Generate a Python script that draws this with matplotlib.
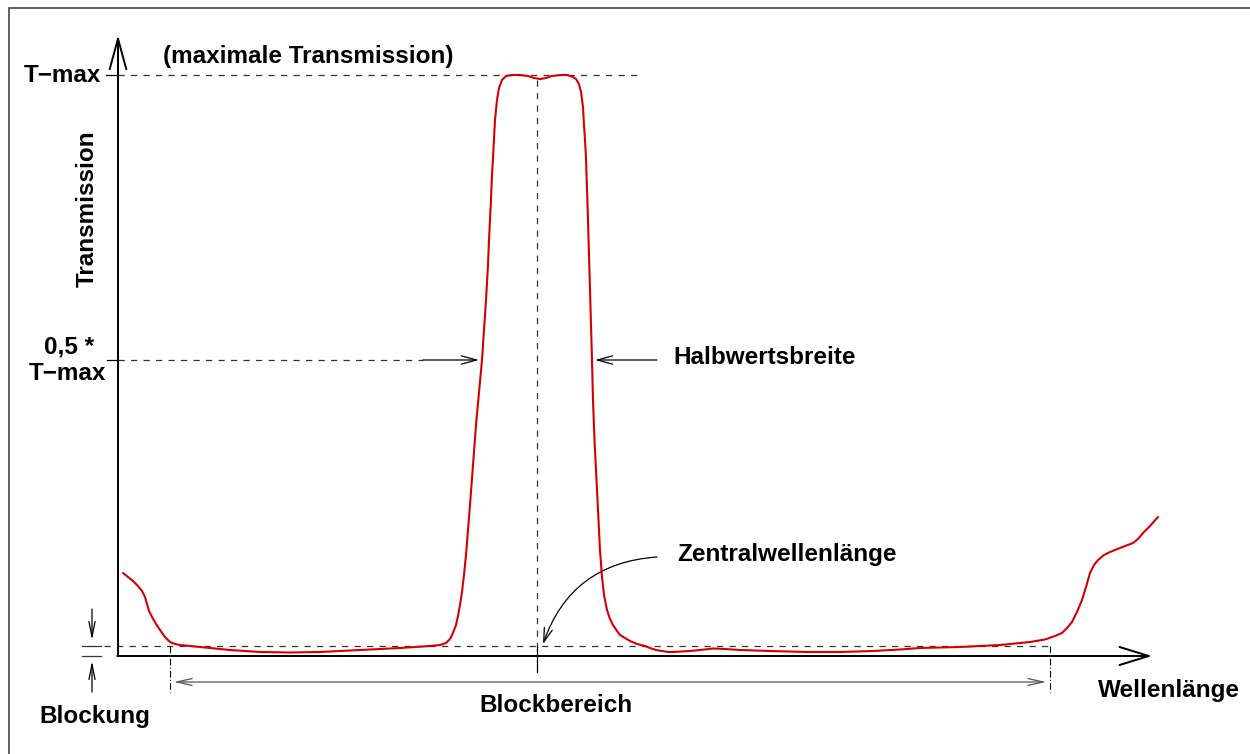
import matplotlib
matplotlib.use("Agg")
import matplotlib.pyplot as plt

# ---- data: schematic transmission curve of an interference filter ----
# wavelength and transmission in arbitrary units (T-max = 581)
wavelength = [123, 128, 133, 138, 142, 145, 147, 149, 152, 156,
              160, 165, 170, 175, 180, 200, 230, 260, 290, 320,
              360, 400, 430, 440, 446, 450, 453, 456, 458, 460,
              462, 464, 466, 468, 470, 473, 476, 479, 482, 484,
              486, 488, 489, 491, 492, 493, 494, 495, 497, 499,
              502, 506, 512, 520, 528, 534, 540, 546, 552, 560,
              567, 573, 576, 579, 581, 583, 584, 585, 586, 587,
              588, 590, 591, 592, 593, 594.5, 596.5, 598.5, 600, 602,
              604, 607, 610, 613, 617, 620, 625, 630,
              637, 645, 650, 656, 662, 668, 673, 682, 690, 700,
              713, 725, 740, 770, 807, 840, 873, 900, 920, 960,
              1000, 1030, 1045, 1055, 1062, 1067, 1072, 1077, 1082, 1086,
              1090, 1094, 1098, 1104, 1110, 1120, 1133, 1138, 1143, 1150,
              1158]
transmission = [83, 79, 75, 70, 65, 59, 52, 45, 39, 32,
                26, 19, 14, 12, 11, 9, 6, 4, 3.5, 4,
                6, 8, 10, 11, 13, 17, 23, 31, 40, 51,
                64, 81, 101, 126, 151, 191, 231, 264, 296, 326,
                356, 391, 416, 456, 481, 498, 518, 536, 556, 568,
                576, 580, 581, 581, 580, 578, 577, 578, 580, 581,
                581, 579, 577, 572, 564, 549, 531, 516, 498, 466,
                436, 366, 331, 296, 256, 216, 176, 136, 106, 79,
                61, 46, 37, 31, 25, 21, 18, 15,
                12, 10, 8, 6, 5, 4, 4, 4.5, 5, 6,
                7.5, 7, 6, 5, 4, 4, 5, 6.5, 8, 9,
                11, 14, 16.5, 20, 23, 28, 34, 44, 56, 69,
                83, 91, 96, 101, 104, 108, 113, 117, 123, 130,
                139]

T_MAX = 581
T_HALF = 296
T_BLOCK = 10.5
X_CENTER = 537
X_BLOCK_START = 170
X_BLOCK_END = 1050

# ---- layout helper: figure pixel row -> transmission coordinate ----
def py(y):
    return 656 - y

FONT = dict(family="Liberation Sans", weight="bold", size=17.5, color="black")

fig = plt.figure(figsize=(12.5, 7.54), dpi=100)
ax = fig.add_axes([0, 0, 1, 1])
ax.set_xlim(0, 1250)
ax.set_ylim(py(754), py(0))
ax.axis("off")

# frame
ax.plot([8.5, 8.5, 1250], [py(754), py(7.5), py(7.5)], color="#444444", lw=1.2,
        solid_joinstyle="miter", clip_on=False)

# axes with arrows
ax.annotate("", xy=(118, py(35)), xytext=(118, 0),
            arrowprops=dict(arrowstyle="->,head_length=2.2,head_width=0.6",
                            lw=1.4, color="black", mutation_scale=10,
                            shrinkA=0, shrinkB=0))
ax.annotate("", xy=(1152, 0), xytext=(117.3, 0),
            arrowprops=dict(arrowstyle="->,head_length=2.1,head_width=0.65",
                            lw=1.4, color="black", mutation_scale=10,
                            shrinkA=0, shrinkB=0))

dash = dict(color="#333333", lw=0.9, linestyle=(0, (5, 5)))

# ticks at T-max and half max
ax.plot([106, 118], [T_MAX, T_MAX], color="black", lw=0.9)
ax.plot([107, 118], [T_HALF, T_HALF], color="black", lw=0.9)

# guide lines
ax.plot([118, 637], [T_MAX, T_MAX], **dash)
ax.plot([118, 423], [T_HALF, T_HALF], **dash)
ax.plot([X_CENTER, X_CENTER], [py(80), T_BLOCK], **dash)
ax.plot([X_CENTER, X_CENTER], [T_BLOCK, py(672)], color="black", lw=0.9)
ax.plot([104, X_BLOCK_END], [T_BLOCK, T_BLOCK], **dash)
ax.plot([82, 101], [T_BLOCK, T_BLOCK], color="#333333", lw=0.9)
ax.plot([82, 101], [0, 0], color="#333333", lw=0.9)

# block range limits
for xb in (X_BLOCK_START, X_BLOCK_END):
    ax.plot([xb, xb], [T_BLOCK, py(692)], color="black", lw=0.8,
            linestyle=(0, (6, 2, 1, 2)))

# red transmission curve
ax.plot(wavelength, transmission, color="#d40000", lw=1.5, zorder=5,
        solid_joinstyle="round", solid_capstyle="round")

small = dict(lw=0.9, color="black", mutation_scale=10, shrinkA=0, shrinkB=0)

# Halbwertsbreite arrows
ax.annotate("", xy=(479, T_HALF), xytext=(423, T_HALF),
            arrowprops=dict(arrowstyle="->,head_length=1.1,head_width=0.3", **small))
ax.annotate("", xy=(595, T_HALF), xytext=(657, T_HALF),
            arrowprops=dict(arrowstyle="->,head_length=1.1,head_width=0.3", **small))

# Blockung arrows
ax.annotate("", xy=(92, py(640)), xytext=(92, py(609)),
            arrowprops=dict(arrowstyle="->,head_length=1.1,head_width=0.22", **small))
ax.annotate("", xy=(92, py(661)), xytext=(92, py(692)),
            arrowprops=dict(arrowstyle="->,head_length=1.1,head_width=0.22", **small))

# Blockbereich double arrow
ax.annotate("", xy=(1046, py(682)), xytext=(174, py(682)),
            arrowprops=dict(arrowstyle="<->,head_length=1.1,head_width=0.25",
                            lw=0.9, color="#555555", mutation_scale=10,
                            shrinkA=0, shrinkB=0))

# Zentralwellenlänge curved arrow
ax.annotate("", xy=(543, py(644)), xytext=(657, py(557)),
            arrowprops=dict(arrowstyle="->,head_length=1.0,head_width=0.3",
                            connectionstyle="arc3,rad=0.33", **small))

# texts
ax.text(101, T_MAX, "T−max", ha="right", va="center", **FONT)
ax.text(163, py(57), "(maximale Transmission)", ha="left", va="center", **FONT)
ax.text(69, py(347), "0,5 *", ha="center", va="center", **FONT)
ax.text(67, py(374), "T−max", ha="center", va="center", **FONT)
ax.text(87, py(209), "Transmission", ha="center", va="center", rotation=90, **FONT)
ax.text(673, py(358), "Halbwertsbreite", ha="left", va="center", **FONT)
ax.text(677, py(555), "Zentralwellenlänge", ha="left", va="center", **FONT)
ax.text(95, py(716), "Blockung", ha="center", va="center", **FONT)
ax.text(556, py(705), "Blockbereich", ha="center", va="center", **FONT)
ax.text(1098, py(690), "Wellenlänge", ha="left", va="center", **FONT)

fig.savefig("out.png", dpi=100)
